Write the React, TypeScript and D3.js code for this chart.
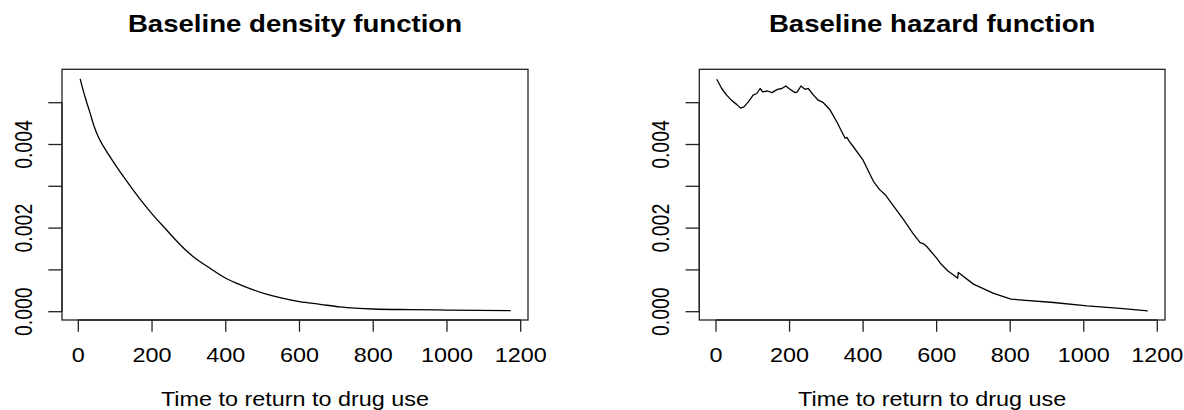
import React from "react";
import * as d3 from "d3";

// Baseline density function (time, value)
const densityTime = [5, 14, 21, 32, 43, 56, 70, 100, 125, 149, 175, 200, 240, 270, 294, 320, 350, 400, 440, 475, 510, 550, 600, 656, 710, 800, 900, 1000, 1173];
const densityValue = [0.00557, 0.00527, 0.00506, 0.00475, 0.00443, 0.00415, 0.00393, 0.00352, 0.0032, 0.00291, 0.00261, 0.00234, 0.00195, 0.00166, 0.00145, 0.00126, 0.00108, 0.0008, 0.00064, 0.00052, 0.00042, 0.00033, 0.00024, 0.000177, 0.000115, 0.000065, 0.00005, 0.00004, 0.000024];

// Baseline hazard function (time, value)
const hazardTime = [2, 15.5, 29, 43, 56, 67, 76, 88, 101, 111, 120, 127, 140, 152, 167, 179, 190, 201, 215, 221, 231, 242, 251, 265, 278, 292, 310, 328, 351, 356, 362, 374, 399, 428, 445, 460, 485, 510, 535, 555, 565, 573, 600, 610, 630, 655, 657, 659, 700, 755, 802, 918, 1009, 1099, 1174];
const hazardValue = [0.00556, 0.00534, 0.00518, 0.00505, 0.00496, 0.00487, 0.0049, 0.00502, 0.00518, 0.00522, 0.00534, 0.00526, 0.00528, 0.00524, 0.00532, 0.00534, 0.0054, 0.00532, 0.00524, 0.00526, 0.0054, 0.00532, 0.00534, 0.00518, 0.00506, 0.005, 0.00483, 0.00455, 0.00415, 0.00417, 0.00408, 0.00394, 0.00364, 0.00312, 0.00292, 0.0028, 0.0025, 0.0022, 0.00188, 0.00165, 0.00162, 0.00156, 0.00128, 0.00116, 0.00098, 0.00082, 0.0008, 0.00094, 0.00066, 0.00044, 0.0003, 0.00022, 0.00014, 0.00008, 0.00002];

const xTicks = [0, 200, 400, 600, 800, 1000, 1200];
const yTicks = [0, 0.001, 0.002, 0.003, 0.004, 0.005];
const yTickLabels = [0, 0.002, 0.004];

const titles = ["Baseline density function", "Baseline hazard function"];
const xLabel = "Time to return to drug use";

const FONT = "'Liberation Sans', Arial, Helvetica, sans-serif";
const SX = 1.2;

interface PanelProps {
  boxLeft: number;
  boxRight: number;
  x0: number;
  x1200: number;
  title: string;
  times: number[];
  values: number[];
  smooth: boolean;
}

function Panel({ boxLeft, boxRight, x0, x1200, title, times, values, smooth }: PanelProps) {
  const boxTop = 69.3;
  const boxBottom = 320;
  const x = d3.scaleLinear().domain([0, 1200]).range([x0, x1200]);
  const y = d3.scaleLinear().domain([0, 0.005]).range([311.7, 102.7]);
  const pts: [number, number][] = times.map((t, i) => [t, values[i]]);
  const line = d3
    .line<[number, number]>()
    .x((d) => x(d[0]))
    .y((d) => y(d[1]))
    .curve(smooth ? d3.curveMonotoneX : d3.curveLinear);
  const cx = (boxLeft + boxRight) / 2;
  return (
    <g>
      <text
        transform={`translate(${cx},32) scale(${SX},1)`}
        textAnchor="middle"
        fontFamily={FONT}
        fontWeight="bold"
        fontSize={23}
        fill="#000"
      >
        {title}
      </text>
      <rect
        x={boxLeft}
        y={boxTop}
        width={boxRight - boxLeft}
        height={boxBottom - boxTop}
        fill="none"
        stroke="#222"
        strokeWidth={1.3}
      />
      {/* x axis */}
      <line x1={x(0)} x2={x(1200)} y1={boxBottom} y2={boxBottom} stroke="#222" strokeWidth={1.3} />
      {xTicks.map((t) => (
        <g key={t}>
          <line x1={x(t)} x2={x(t)} y1={boxBottom} y2={boxBottom + 11.7} stroke="#222" strokeWidth={1.3} />
          <text
            transform={`translate(${x(t)},362.3) scale(${SX},1)`}
            textAnchor="middle"
            fontFamily={FONT}
            fontSize={19.5}
            fill="#000"
          >
            {t}
          </text>
        </g>
      ))}
      {/* y axis */}
      <line x1={boxLeft} x2={boxLeft} y1={y(0)} y2={y(0.005)} stroke="#222" strokeWidth={1.3} />
      {yTicks.map((v) => (
        <line key={v} x1={boxLeft} x2={boxLeft - 13.7} y1={y(v)} y2={y(v)} stroke="#222" strokeWidth={1.3} />
      ))}
      {yTickLabels.map((v) => (
        <text
          key={v}
          transform={`translate(${boxLeft - 30.5},${y(v)}) scale(${SX},1) rotate(-90)`}
          textAnchor="middle"
          fontFamily={FONT}
          fontSize={19.5}
          fill="#000"
        >
          {d3.format(".3f")(v)}
        </text>
      ))}
      <text
        transform={`translate(${cx},405.5) scale(${SX},1)`}
        textAnchor="middle"
        fontFamily={FONT}
        fontSize={19.5}
        fill="#000"
      >
        {xLabel}
      </text>
      <path d={line(pts) || ""} fill="none" stroke="#000" strokeWidth={1.3} strokeLinejoin="round" />
    </g>
  );
}

export default function App() {
  return (
    <svg
      width={1184}
      height={410}
      style={{ position: "absolute", left: 0, top: 0, background: "#fff" }}
    >
      <rect x={0} y={0} width={1184} height={410} fill="#fff" />
      <Panel boxLeft={62} boxRight={528} x0={78.3} x1200={520.7} title={titles[0]} times={densityTime} values={densityValue} smooth={true} />
      <Panel boxLeft={699.3} boxRight={1165} x0={716} x1200={1157.3} title={titles[1]} times={hazardTime} values={hazardValue} smooth={false} />
    </svg>
  );
}
